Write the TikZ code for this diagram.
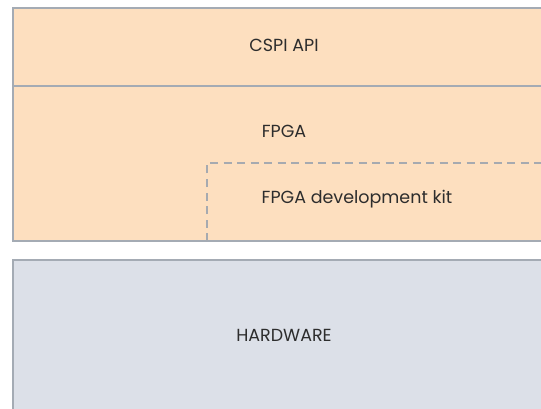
\documentclass[tikz,border=0pt]{standalone}
\usepackage{fontspec}
\setmainfont{Poppins}
\usepackage{tikz}
\usetikzlibrary{positioning}
\definecolor{peach}{RGB}{253,223,191}
\definecolor{hwgray}{RGB}{220,224,232}
\definecolor{edgegray}{RGB}{164,171,180}
\definecolor{dashgray}{RGB}{166,170,176}
\definecolor{textgray}{RGB}{45,45,45}

\begin{document}
\begin{tikzpicture}[x=1pt, y=-1pt, font=\fontsize{17.5}{20}\selectfont, text=textgray]
        \useasboundingbox (0,0) rectangle (541,409);
        \clip (0,0) rectangle (541,409);
        % software layers
        \draw[edgegray, line width=1.3pt, fill=peach] (13,8) rectangle (560,241);
        \draw[edgegray, line width=1.3pt] (13,86) -- (560,86);
        \draw[dashgray, line width=1.3pt, dash pattern=on 8pt off 5.5pt] (207,241) -- (207,163) -- (560,163);
        % hardware
        \draw[edgegray, line width=1.3pt, fill=hwgray] (13,260) rectangle (560,430);
        \node (api) at (284,45) {CSPI API};
        \node (fpga) at (284,131) {FPGA};
        \node (devkit) at (357,199) {FPGA development kit};
        \node (hw) at (284,335) {HARDWARE};
      \end{tikzpicture}
\end{document}
